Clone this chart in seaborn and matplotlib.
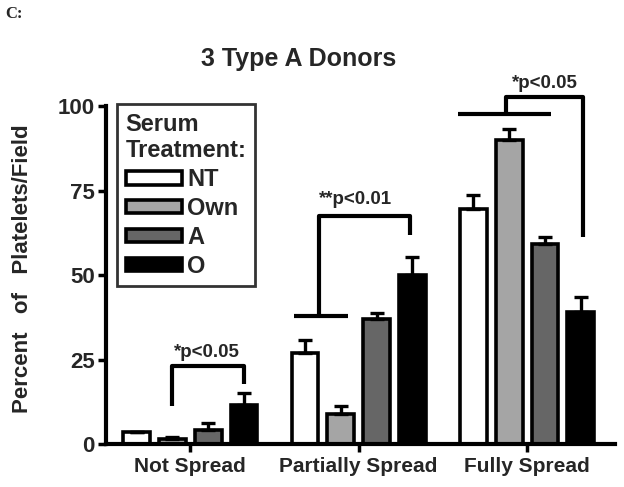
import matplotlib
matplotlib.use("Agg")
import matplotlib.pyplot as plt
import seaborn as sns
import pandas as pd
import numpy as np
from matplotlib.patches import Patch

# data
categories = ["Not Spread", "Partially Spread", "Fully Spread"]
treatments = ["NT", "Own", "A", "O"]
nt_mean = [3.6, 27.0, 69.5]
own_mean = [1.6, 9.0, 90.0]
a_mean = [4.3, 37.0, 59.2]
o_mean = [11.6, 50.0, 39.0]
nt_sem = [0.0, 3.8, 4.3]
own_sem = [0.4, 2.3, 3.2]
a_sem = [2.0, 1.8, 2.0]
o_sem = [3.5, 5.3, 4.6]
colors = ["white", "#a5a5a5", "#666666", "black"]

means = [nt_mean, own_mean, a_mean, o_mean]
sems = [nt_sem, own_sem, a_sem, o_sem]

df = pd.DataFrame({
    "spread": categories * len(treatments),
    "serum": np.repeat(treatments, len(categories)),
    "pct": np.concatenate(means),
})

sns.set_style("white")
plt.rcParams["font.family"] = ["Liberation Sans", "DejaVu Sans"]
plt.rcParams["font.weight"] = "bold"

fig = plt.figure(figsize=(6.24, 4.87), dpi=100)
ax = fig.add_axes([0.17, 0.088, 0.815, 0.694])

sns.barplot(data=df, x="spread", y="pct", hue="serum", hue_order=treatments,
            palette=colors, width=0.85, gap=0.25, edgecolor="black",
            linewidth=2.6, errorbar=None, legend=False, ax=ax)

# one-sided error bars on top of each bar
bars = ax.patches[:len(treatments) * len(categories)]
xs = [b.get_x() + b.get_width() / 2 for b in bars]
hs = [b.get_height() for b in bars]
err = np.concatenate(sems)
ax.errorbar(xs, hs, yerr=[np.zeros_like(err), err], fmt="none", ecolor="black",
            elinewidth=2.4, capsize=5, capthick=2.4, zorder=1)

ax.set_ylim(0, 100)
ax.set_xlim(-0.5, 2.52)
ax.set_yticks([0, 25, 50, 75, 100])
ax.tick_params(axis="both", direction="out", length=6, width=2.5, color="black",
               left=True, bottom=True)
ax.tick_params(axis="y", labelsize=16, pad=2)
ax.tick_params(axis="x", labelsize=15, pad=3)
for s in ["top", "right"]:
    ax.spines[s].set_visible(False)
for s in ["left", "bottom"]:
    ax.spines[s].set_linewidth(3)
    ax.spines[s].set_color("black")
ax.set_xlabel("")
ax.set_ylabel("Percent   of   Platelets/Field", fontsize=16, fontweight="bold")
ax.yaxis.set_label_coords(-0.143, 0.52)

fig.text(0.479, 0.878, "3 Type A Donors", ha="center", va="center",
         fontsize=18, fontweight="bold")
fig.text(0.008, 0.972, "C:", ha="left", va="center", fontsize=12,
         fontweight="bold", family="Liberation Serif")

# significance brackets (x in category units)
lk = dict(color="black", lw=3, clip_on=False, solid_capstyle="butt")
tk = dict(ha="center", va="center", fontsize=13.5, fontweight="bold", clip_on=False)

ax.plot([-0.106, -0.106, 0.319, 0.319], [11.2, 23.1, 23.1, 17.8], **lk)
ax.text(0.1, 27.2, "*p<0.05", **tk)

ax.plot([0.617, 0.935], [37.9, 37.9], **lk)
ax.plot([0.764, 0.764, 1.307, 1.307], [37.9, 67.5, 67.5, 61.8], **lk)
ax.text(0.98, 72.3, "**p<0.01", **tk)

ax.plot([1.587, 2.142], [97.6, 97.6], **lk)
ax.plot([1.876, 1.876, 2.33, 2.33], [97.6, 102.7, 102.7, 61.2], **lk)
ax.text(2.106, 106.8, "*p<0.05", **tk)

handles = [Patch(facecolor=c, edgecolor="black", linewidth=2.6) for c in colors]
leg = ax.legend(handles, treatments, title="Serum\nTreatment:", loc="upper left",
                bbox_to_anchor=(0.022, 1.005), frameon=True, fancybox=False,
                prop={"size": 17, "weight": "bold"},
                title_fontproperties={"size": 17, "weight": "bold"},
                alignment="left", handlelength=2.4, handleheight=0.5,
                handletextpad=0.2, labelspacing=0.25, borderpad=0.35,
                borderaxespad=0)
leg.get_frame().set_edgecolor("black")
leg.get_frame().set_linewidth(2)

fig.savefig("out.png", dpi=100)
